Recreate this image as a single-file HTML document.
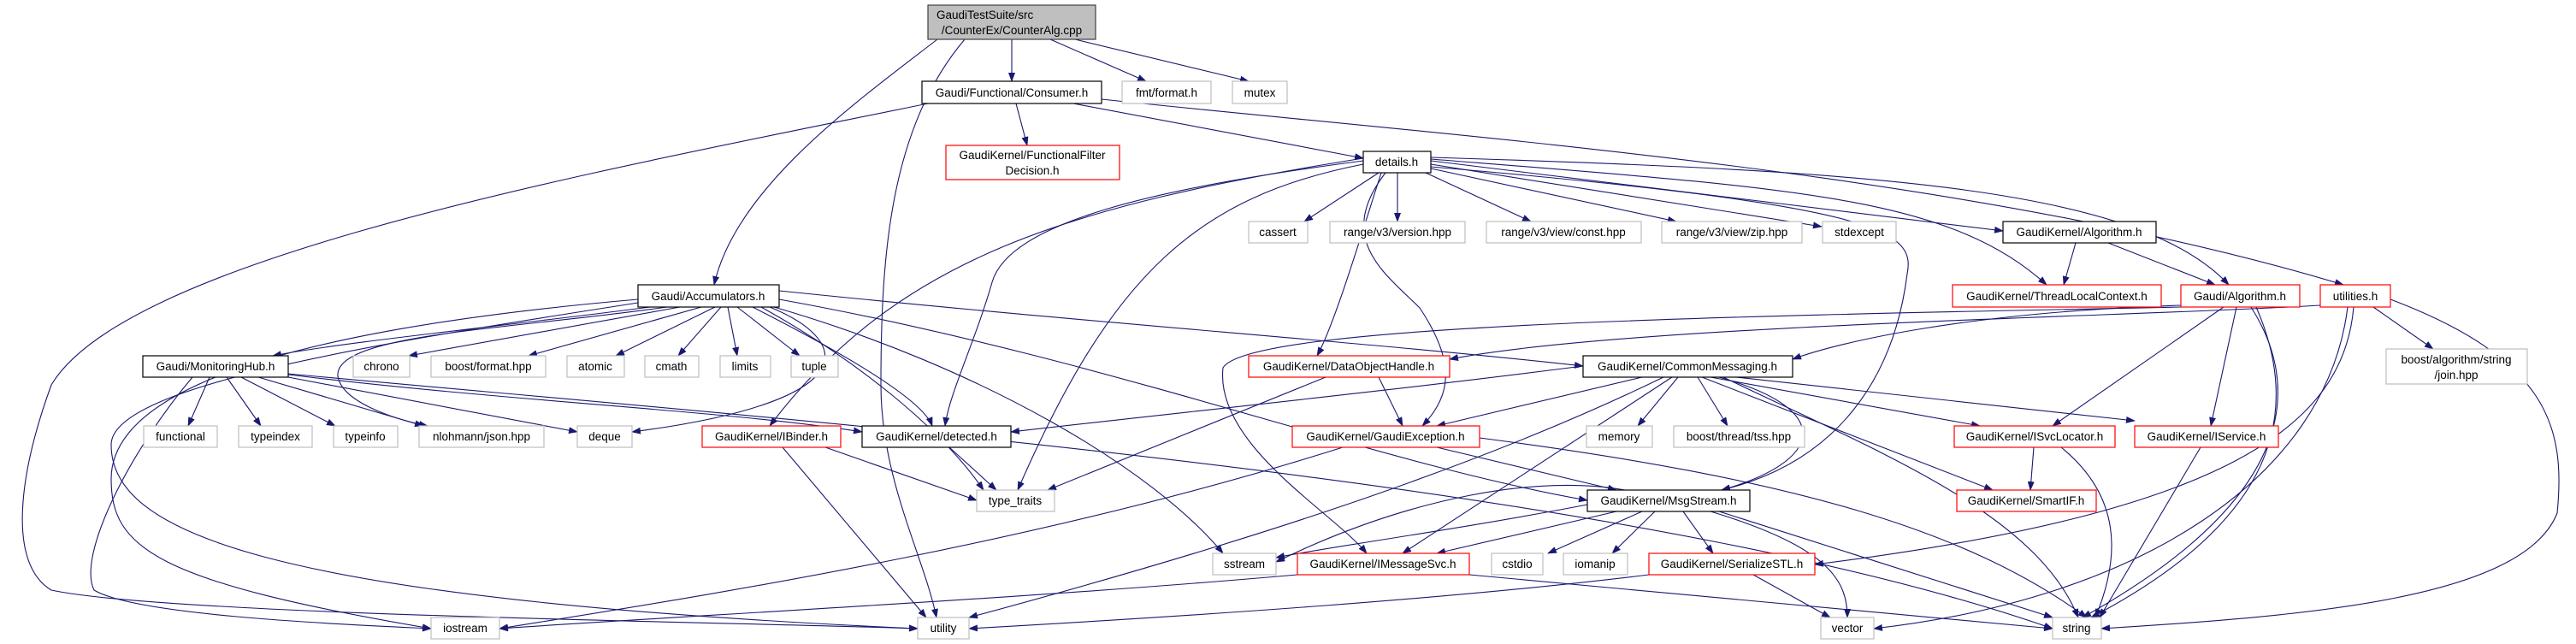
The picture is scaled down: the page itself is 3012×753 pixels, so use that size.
<!DOCTYPE html>
<html><head><meta charset="utf-8"><style>
html,body{margin:0;padding:0;background:#fff;}
svg{display:block;}
text{font-family:"Liberation Sans",sans-serif;font-size:13.5px;fill:#000;}
.e{fill:none;stroke:#191970;stroke-width:1.1;marker-end:url(#a);}
.g{fill:#fff;stroke:#bfbfbf;stroke-width:1.2;}
.b{fill:#fff;stroke:#000;stroke-width:1.2;}
.r{fill:#fff;stroke:#ff0000;stroke-width:1.2;}
</style></head><body>
<svg width="3012" height="753" viewBox="0 0 3012 753" xmlns="http://www.w3.org/2000/svg">
<defs><marker id="a" markerWidth="11" markerHeight="8" refX="10" refY="4" orient="auto" markerUnits="userSpaceOnUse"><path d="M0,0 L11,4 L0,8 z" fill="#191970"/></marker></defs>
<rect width="3012" height="753" fill="#fff"/>
<g>
<path class="e" d="M1183,46 L1183,95"/>
<path class="e" d="M1228,46 L1340,95"/>
<path class="e" d="M1257,46 L1460,95"/>
<path class="e" d="M1096,46 C1000,120 860,220 835,333"/>
<path class="e" d="M1128,46 C1040,150 1030,300 1030,450 C1030,560 1080,650 1095,722"/>
<path class="e" d="M1188,121 L1201,170"/>
<path class="e" d="M1255,121 L1594,185"/>
<path class="e" d="M1288,116 C1700,160 2300,200 2740,333"/>
<path class="e" d="M1085,121 C700,200 150,300 60,450 C20,560 10,660 60,690 C200,720 900,728 1073,735"/>
<path class="e" d="M1612,202 L1525,259"/>
<path class="e" d="M1634,202 L1634,259"/>
<path class="e" d="M1667,202 L1790,259"/>
<path class="e" d="M1673,197 L1960,259"/>
<path class="e" d="M1673,192 L2130,265"/>
<path class="e" d="M1673,188 L2342,270"/>
<path class="e" d="M1673,186 C2100,220 2280,230 2393,333"/>
<path class="e" d="M1673,184 C2200,200 2500,220 2606,333"/>
<path class="e" d="M1594,188 C1350,220 1180,260 1160,330 C1140,400 1110,460 1105,498"/>
<path class="e" d="M1594,192 C1400,230 1300,320 1190,573"/>
<path class="e" d="M1594,185 C1250,240 1050,300 900,498"/>
<path class="e" d="M1615,202 C1590,280 1560,380 1540,416"/>
<path class="e" d="M1620,202 C1560,280 1620,320 1660,360 C1700,420 1700,460 1663,498"/>
<path class="e" d="M1673,195 C2200,240 2240,270 2230,320 C2215,440 2150,540 2013,573"/>
<path class="e" d="M760,359 C600,380 400,400 319,416"/>
<path class="e" d="M795,359 L478,416"/>
<path class="e" d="M820,359 L618,416"/>
<path class="e" d="M836,359 L720,416"/>
<path class="e" d="M843,359 L793,416"/>
<path class="e" d="M851,359 L862,416"/>
<path class="e" d="M862,359 L935,416"/>
<path class="e" d="M780,359 C600,385 390,390 395,440 C400,470 460,490 500,498"/>
<path class="e" d="M746,350 C400,380 130,440 130,560 C130,640 180,680 504,735"/>
<path class="e" d="M746,354 C450,400 130,450 130,520 C130,620 300,700 1073,735"/>
<path class="e" d="M900,359 C1000,400 1010,470 739,505"/>
<path class="e" d="M880,359 C1000,420 1080,470 1090,498"/>
<path class="e" d="M890,359 C1000,420 1100,500 1150,573"/>
<path class="e" d="M905,359 C1150,430 1350,550 1430,647"/>
<path class="e" d="M911,340 C1300,380 1600,400 1851,428"/>
<path class="e" d="M911,350 C1300,420 1600,540 1856,585"/>
<path class="e" d="M245,441 L220,498"/>
<path class="e" d="M265,441 L305,498"/>
<path class="e" d="M282,441 L392,498"/>
<path class="e" d="M302,441 L495,498"/>
<path class="e" d="M337,441 L675,505"/>
<path class="e" d="M337,438 C600,470 850,480 1008,505"/>
<path class="e" d="M337,437 C900,490 1900,560 2400,735"/>
<path class="e" d="M225,441 C150,530 90,650 110,690 C160,720 400,730 504,735"/>
<path class="e" d="M1851,428 C1600,460 1400,480 1182,505"/>
<path class="e" d="M1920,441 L1680,498"/>
<path class="e" d="M1962,441 L1915,498"/>
<path class="e" d="M1985,441 L2020,498"/>
<path class="e" d="M2000,441 L2315,498"/>
<path class="e" d="M2030,441 L2496,492"/>
<path class="e" d="M1990,441 L2330,573"/>
<path class="e" d="M2010,441 C2150,480 2130,540 2013,573"/>
<path class="e" d="M1945,441 C1700,560 1400,650 1133,722"/>
<path class="e" d="M1955,441 L1640,647"/>
<path class="e" d="M2015,441 C2200,530 2380,600 2430,722"/>
<path class="e" d="M1612,441 L1640,498"/>
<path class="e" d="M1550,441 L1225,573"/>
<path class="e" d="M1680,523 L1890,573"/>
<path class="e" d="M1570,523 C1200,640 800,700 584,735"/>
<path class="e" d="M1730,512 C2100,560 2300,620 2440,722"/>
<path class="e" d="M1110,523 L1165,573"/>
<path class="e" d="M965,523 L1142,585"/>
<path class="e" d="M915,523 L1083,722"/>
<path class="e" d="M1856,590 C1700,620 1550,640 1492,652"/>
<path class="e" d="M1900,573 C1800,555 1650,580 1492,657"/>
<path class="e" d="M1890,598 L1680,647"/>
<path class="e" d="M1920,598 L1810,647"/>
<path class="e" d="M1935,598 L1885,647"/>
<path class="e" d="M1968,598 L2003,647"/>
<path class="e" d="M2000,598 C2140,640 2160,680 2160,722"/>
<path class="e" d="M2010,598 L2400,722"/>
<path class="e" d="M1517,672 C1200,700 800,720 584,735"/>
<path class="e" d="M1718,672 L2400,735"/>
<path class="e" d="M1928,672 C1700,700 1400,720 1133,735"/>
<path class="e" d="M2050,672 L2140,722"/>
<path class="e" d="M2378,523 L2374,573"/>
<path class="e" d="M2410,523 C2480,580 2480,650 2450,722"/>
<path class="e" d="M2573,523 L2455,722"/>
<path class="e" d="M2427,284 L2413,333"/>
<path class="e" d="M2465,284 L2590,333"/>
<path class="e" d="M2550,357 C2300,365 2150,400 2096,420"/>
<path class="e" d="M2600,359 L2400,498"/>
<path class="e" d="M2615,359 L2585,498"/>
<path class="e" d="M2632,359 C2690,450 2690,580 2435,722"/>
<path class="e" d="M2638,359 C2700,500 2640,620 2445,722"/>
<path class="e" d="M2550,359 C2000,370 1460,380 1430,430 C1420,520 1560,600 1598,647"/>
<path class="e" d="M2713,357 C2500,370 1900,380 1695,420"/>
<path class="e" d="M2775,359 L2845,408"/>
<path class="e" d="M2752,359 C2740,500 2600,600 2122,660"/>
<path class="e" d="M2795,350 C2980,420 3000,500 2990,600 C2950,700 2700,720 2457,735"/>
<path class="e" d="M2745,359 C2720,560 2500,700 2191,735"/>
</g>
<g>
<rect x="1085" y="6" width="196" height="40" fill="#bfbfbf" stroke="#404040" stroke-width="1.2"/>
<text x="1095" y="22">GaudiTestSuite/src</text>
<text x="1183" y="40" text-anchor="middle">/CounterEx/CounterAlg.cpp</text>
<rect class="b" x="1078" y="95" width="210" height="26"/><text x="1183" y="113" text-anchor="middle">Gaudi/Functional/Consumer.h</text>
<rect class="g" x="1312" y="95" width="104" height="26"/><text x="1364" y="113" text-anchor="middle">fmt/format.h</text>
<rect class="g" x="1441" y="95" width="64" height="26"/><text x="1473" y="113" text-anchor="middle">mutex</text>
<rect class="r" x="1106" y="170" width="203" height="40"/><text x="1207" y="186" text-anchor="middle">GaudiKernel/FunctionalFilter</text><text x="1207" y="204" text-anchor="middle">Decision.h</text>
<rect class="b" x="1594" y="177" width="79" height="25"/><text x="1633" y="194" text-anchor="middle">details.h</text>
<rect class="g" x="1460" y="259" width="69" height="25"/><text x="1494" y="276" text-anchor="middle">cassert</text>
<rect class="g" x="1555" y="259" width="158" height="25"/><text x="1634" y="276" text-anchor="middle">range/v3/version.hpp</text>
<rect class="g" x="1738" y="259" width="181" height="25"/><text x="1828" y="276" text-anchor="middle">range/v3/view/const.hpp</text>
<rect class="g" x="1943" y="259" width="164" height="25"/><text x="2025" y="276" text-anchor="middle">range/v3/view/zip.hpp</text>
<rect class="g" x="2131" y="259" width="86" height="25"/><text x="2174" y="276" text-anchor="middle">stdexcept</text>
<rect class="b" x="2342" y="259" width="179" height="25"/><text x="2431" y="276" text-anchor="middle">GaudiKernel/Algorithm.h</text>
<rect class="b" x="746" y="333" width="165" height="26"/><text x="828" y="351" text-anchor="middle">Gaudi/Accumulators.h</text>
<rect class="r" x="2283" y="333" width="244" height="26"/><text x="2405" y="351" text-anchor="middle">GaudiKernel/ThreadLocalContext.h</text>
<rect class="r" x="2550" y="333" width="139" height="26"/><text x="2619" y="351" text-anchor="middle">Gaudi/Algorithm.h</text>
<rect class="r" x="2713" y="333" width="82" height="26"/><text x="2754" y="351" text-anchor="middle">utilities.h</text>
<rect class="b" x="167" y="416" width="170" height="25"/><text x="252" y="433" text-anchor="middle">Gaudi/MonitoringHub.h</text>
<rect class="g" x="413" y="416" width="66" height="25"/><text x="446" y="433" text-anchor="middle">chrono</text>
<rect class="g" x="504" y="416" width="134" height="25"/><text x="571" y="433" text-anchor="middle">boost/format.hpp</text>
<rect class="g" x="663" y="416" width="67" height="25"/><text x="696" y="433" text-anchor="middle">atomic</text>
<rect class="g" x="754" y="416" width="63" height="25"/><text x="785" y="433" text-anchor="middle">cmath</text>
<rect class="g" x="842" y="416" width="59" height="25"/><text x="871" y="433" text-anchor="middle">limits</text>
<rect class="g" x="925" y="416" width="55" height="25"/><text x="952" y="433" text-anchor="middle">tuple</text>
<rect class="r" x="1460" y="416" width="235" height="25"/><text x="1577" y="433" text-anchor="middle">GaudiKernel/DataObjectHandle.h</text>
<rect class="b" x="1851" y="416" width="245" height="25"/><text x="1973" y="433" text-anchor="middle">GaudiKernel/CommonMessaging.h</text>
<rect class="g" x="2790" y="408" width="165" height="41"/><text x="2872" y="425" text-anchor="middle">boost/algorithm/string</text><text x="2872" y="443" text-anchor="middle">/join.hpp</text>
<rect class="g" x="168" y="498" width="86" height="25"/><text x="211" y="515" text-anchor="middle">functional</text>
<rect class="g" x="279" y="498" width="86" height="25"/><text x="322" y="515" text-anchor="middle">typeindex</text>
<rect class="g" x="390" y="498" width="75" height="25"/><text x="427" y="515" text-anchor="middle">typeinfo</text>
<rect class="g" x="490" y="498" width="146" height="25"/><text x="563" y="515" text-anchor="middle">nlohmann/json.hpp</text>
<rect class="g" x="675" y="498" width="64" height="25"/><text x="707" y="515" text-anchor="middle">deque</text>
<rect class="r" x="821" y="498" width="162" height="25"/><text x="902" y="515" text-anchor="middle">GaudiKernel/IBinder.h</text>
<rect class="b" x="1008" y="498" width="174" height="25"/><text x="1095" y="515" text-anchor="middle">GaudiKernel/detected.h</text>
<rect class="r" x="1511" y="498" width="219" height="25"/><text x="1620" y="515" text-anchor="middle">GaudiKernel/GaudiException.h</text>
<rect class="g" x="1855" y="498" width="77" height="25"/><text x="1893" y="515" text-anchor="middle">memory</text>
<rect class="g" x="1957" y="498" width="153" height="25"/><text x="2033" y="515" text-anchor="middle">boost/thread/tss.hpp</text>
<rect class="r" x="2285" y="498" width="188" height="25"/><text x="2379" y="515" text-anchor="middle">GaudiKernel/ISvcLocator.h</text>
<rect class="r" x="2496" y="498" width="168" height="25"/><text x="2580" y="515" text-anchor="middle">GaudiKernel/IService.h</text>
<rect class="g" x="1142" y="573" width="91" height="25"/><text x="1187" y="590" text-anchor="middle">type_traits</text>
<rect class="b" x="1856" y="573" width="190" height="25"/><text x="1951" y="590" text-anchor="middle">GaudiKernel/MsgStream.h</text>
<rect class="r" x="2288" y="573" width="163" height="25"/><text x="2369" y="590" text-anchor="middle">GaudiKernel/SmartIF.h</text>
<rect class="g" x="1418" y="647" width="74" height="25"/><text x="1455" y="664" text-anchor="middle">sstream</text>
<rect class="r" x="1517" y="647" width="201" height="25"/><text x="1617" y="664" text-anchor="middle">GaudiKernel/IMessageSvc.h</text>
<rect class="g" x="1744" y="647" width="60" height="25"/><text x="1774" y="664" text-anchor="middle">cstdio</text>
<rect class="g" x="1828" y="647" width="75" height="25"/><text x="1865" y="664" text-anchor="middle">iomanip</text>
<rect class="r" x="1928" y="647" width="194" height="25"/><text x="2025" y="664" text-anchor="middle">GaudiKernel/SerializeSTL.h</text>
<rect class="g" x="504" y="722" width="80" height="25"/><text x="544" y="739" text-anchor="middle">iostream</text>
<rect class="g" x="1073" y="722" width="60" height="25"/><text x="1103" y="739" text-anchor="middle">utility</text>
<rect class="g" x="2129" y="722" width="62" height="25"/><text x="2160" y="739" text-anchor="middle">vector</text>
<rect class="g" x="2400" y="722" width="57" height="25"/><text x="2428" y="739" text-anchor="middle">string</text>
</g>
</svg>
</body></html>
